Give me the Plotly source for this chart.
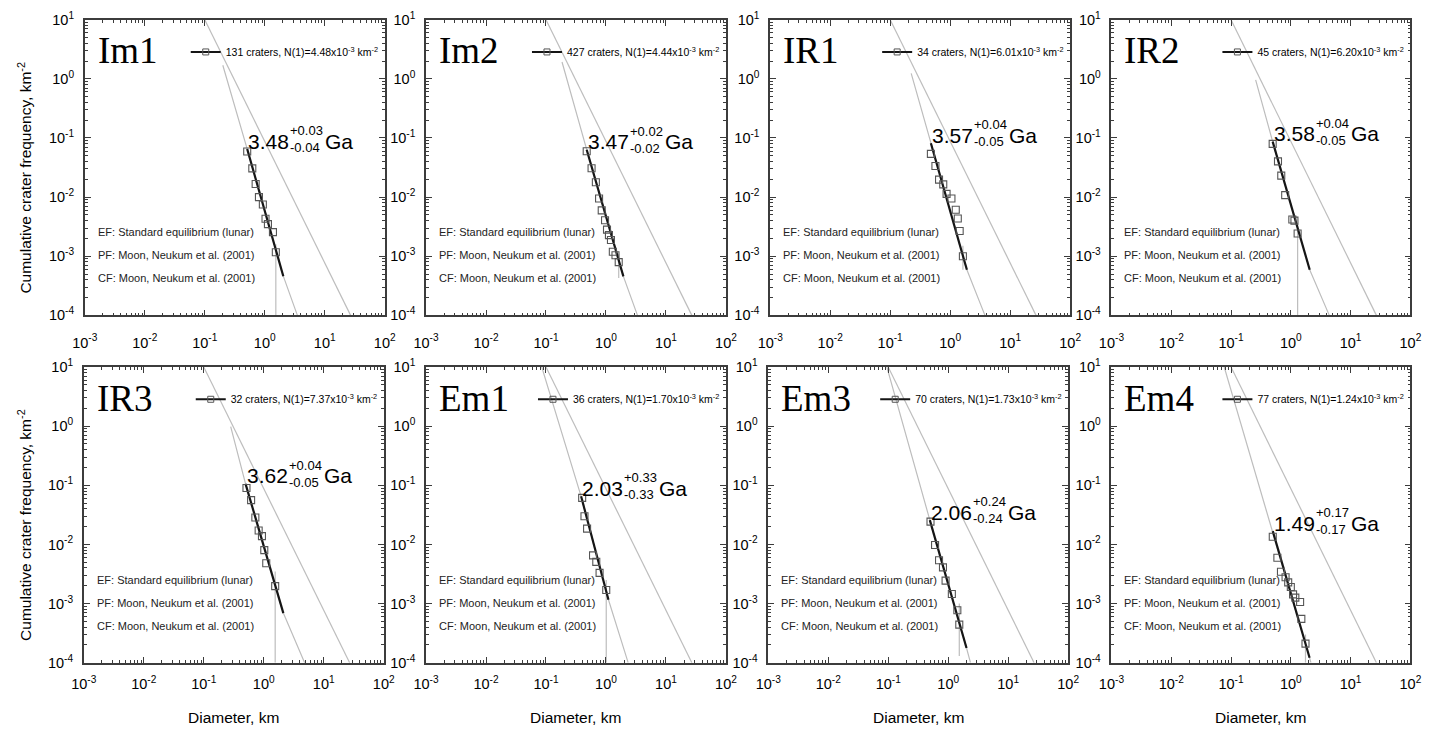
import math
import plotly.graph_objects as go

W, H = 1445, 738

# ---------------- data ----------------
panel_names = ["Im1", "Im2", "IR1", "IR2", "IR3", "Em1", "Em3", "Em4"]
crater_counts = [131, 427, 34, 45, 32, 36, 70, 77]
n1_values = ["4.48", "4.44", "6.01", "6.20", "7.37", "1.70", "1.73", "1.24"]
ages = ["3.48", "3.47", "3.57", "3.58", "3.62", "2.03", "2.06", "1.49"]
age_plus = ["+0.03", "+0.02", "+0.04", "+0.04", "+0.04", "+0.33", "+0.24", "+0.17"]
age_minus = ["-0.04", "-0.02", "-0.05", "-0.05", "-0.05", "-0.33", "-0.24", "-0.17"]

# cumulative crater frequency points (diameter km, N km^-2)
im1_D = [0.51, 0.62, 0.705, 0.80, 0.93, 1.03, 1.13, 1.37, 1.53]
im1_N = [0.059, 0.0307, 0.0167, 0.0100, 0.0075, 0.0043, 0.0035, 0.00256, 0.00117]
im2_D = [0.477, 0.575, 0.678, 0.767, 0.849, 0.964, 1.04, 1.12, 1.21, 1.30, 1.44, 1.63]
im2_N = [0.0596, 0.0308, 0.0179, 0.0095, 0.00596, 0.00407, 0.00282, 0.00228, 0.00188,
         0.00119, 0.00104, 0.000796]
ir1_D = [0.477, 0.568, 0.652, 0.767, 0.871, 1.05, 1.24, 1.34, 1.44, 1.63]
ir1_N = [0.0538, 0.0337, 0.0198, 0.0164, 0.01135, 0.0095, 0.0061, 0.00434, 0.00268, 0.00100]
ir2_D = [0.497, 0.61, 0.692, 0.805, 1.06, 1.15, 1.30]
ir2_N = [0.0796, 0.0402, 0.0231, 0.0108, 0.00418, 0.0040, 0.00243]
ir3_D = [0.515, 0.615, 0.724, 0.822, 0.933, 1.02, 1.10, 1.55]
ir3_N = [0.090, 0.0561, 0.0286, 0.0172, 0.0138, 0.0080, 0.0048, 0.00197]
em1_D = [0.401, 0.438, 0.484, 0.608, 0.689, 0.782, 1.01]
em1_N = [0.0612, 0.0299, 0.0185, 0.00652, 0.00507, 0.0033, 0.0017]
em3_D = [0.507, 0.604, 0.703, 0.818, 0.904, 1.15, 1.42, 1.53]
em3_N = [0.0243, 0.00977, 0.0054, 0.00409, 0.00244, 0.00145, 0.00077, 0.00044]
em4_D = [0.499, 0.596, 0.684, 0.817, 0.904, 1.0, 1.09, 1.19, 1.43, 1.50, 1.76]
em4_N = [0.0135, 0.00596, 0.00345, 0.00279, 0.00228, 0.00191, 0.00143, 0.00126, 0.00106,
         0.00055, 0.00021]

# fitted isochron segments (black)
im1_fit_D, im1_fit_N = [0.51, 2.04], [0.065, 4.6e-4]
im2_fit_D, im2_fit_N = [0.477, 1.95], [0.0634, 4.57e-4]
ir1_fit_D, ir1_fit_N = [0.477, 1.90], [0.0817, 5.9e-4]
ir2_fit_D, ir2_fit_N = [0.497, 2.07], [0.087, 5.9e-4]
ir3_fit_D, ir3_fit_N = [0.497, 2.12], [0.106, 6.9e-4]
em1_fit_D, em1_fit_N = [0.385, 1.10], [0.0652, 0.00116]
em3_fit_D, em3_fit_N = [0.494, 2.02], [0.0258, 1.77e-4]
em4_fit_D, em4_fit_N = [0.499, 2.06], [0.0168, 1.21e-4]

# production function curves (grey)
im1_pf_D, im1_pf_N = [0.2, 0.51, 2.04, 3.5], [1.7, 0.065, 4.6e-4, 1e-4]
im2_pf_D, im2_pf_N = [0.185, 0.477, 1.95, 3.35], [1.93, 0.0634, 4.57e-4, 1e-4]
ir1_pf_D, ir1_pf_N = [0.224, 0.477, 1.90, 3.8], [1.24, 0.0817, 5.9e-4, 1e-4]
ir2_pf_D, ir2_pf_N = [0.258, 0.497, 2.07, 4.4], [0.96, 0.087, 5.9e-4, 1e-4]
ir3_pf_D, ir3_pf_N = [0.281, 0.497, 2.12, 4.8], [0.98, 0.106, 6.9e-4, 1e-4]
em1_pf_D, em1_pf_N = [0.085, 0.385, 1.10, 2.34], [10, 0.0652, 0.00116, 1e-4]
em3_pf_D, em3_pf_N = [0.095, 0.494, 2.02, 2.35], [10, 0.0258, 1.77e-4, 1e-4]
em4_pf_D, em4_pf_N = [0.077, 0.499, 2.06, 2.17], [10, 0.0168, 1.21e-4, 1e-4]

# standard lunar equilibrium (grey)
eq_D = [0.1, 27]
eq_N = [10, 1e-4]

# long error bars of the largest bins
errbar_D = [1.53, 1.63, 1.63, 1.30, 1.55, 1.01, 1.53, 1.76]
errbar_top = [1.6e-3, 1.1e-3, 1.5e-3, 3.5e-3, 3.5e-3, 2.5e-3, 1.0e-3, 3e-4]
errbar_bot = [1e-4, 4.3e-4, 5.9e-4, 1e-4, 1e-4, 1e-4, 1.3e-4, 1e-4]

pts_D = [im1_D, im2_D, ir1_D, ir2_D, ir3_D, em1_D, em3_D, em4_D]
pts_N = [im1_N, im2_N, ir1_N, ir2_N, ir3_N, em1_N, em3_N, em4_N]
fit_D = [im1_fit_D, im2_fit_D, ir1_fit_D, ir2_fit_D, ir3_fit_D, em1_fit_D, em3_fit_D, em4_fit_D]
fit_N = [im1_fit_N, im2_fit_N, ir1_fit_N, ir2_fit_N, ir3_fit_N, em1_fit_N, em3_fit_N, em4_fit_N]
pf_D = [im1_pf_D, im2_pf_D, ir1_pf_D, ir2_pf_D, ir3_pf_D, em1_pf_D, em3_pf_D, em4_pf_D]
pf_N = [im1_pf_N, im2_pf_N, ir1_pf_N, ir2_pf_N, ir3_pf_N, em1_pf_N, em3_pf_N, em4_pf_N]

x_decades = [-3, -2, -1, 0, 1, 2]
y_decades = [-4, -3, -2, -1, 0, 1]

# ---------------- layout geometry (pixels) ----------------
col_px = [[(73, 378), (420, 725), (770, 1075), (1117, 1421)],
          [(72, 377), (420, 725), (768, 1073), (1117, 1421)]]
row_px = [(10, 313), (366, 669)]

SANS = "Liberation Sans, Arial, sans-serif"
SERIF = "Liberation Serif, Times New Roman, serif"
FRAME = "#3c3c3c"
GREY = "#bdbdbd"

fig = go.Figure()
layout = dict(
    width=W, height=H,
    margin=dict(l=0, r=0, t=0, b=0),
    paper_bgcolor="white", plot_bgcolor="white",
    font=dict(family=SANS, size=13, color="black"),
    showlegend=True,
)
annotations = []

x_minor = [k * 10 ** e for e in range(-3, 2) for k in range(2, 10)]
y_minor = [k * 10 ** e for e in range(-4, 1) for k in range(2, 10)]

for i in range(8):
    r, c = divmod(i, 4)
    ax = "" if i == 0 else str(i + 1)
    xa, ya = "x" + ax, "y" + ax
    (x0, x1), (y0, y1) = col_px[r][c], row_px[r]
    layout["xaxis" + ax] = dict(
        type="log", range=[-3, 2], domain=[x0 / W, x1 / W], anchor=ya,
        showline=True, linecolor=FRAME, linewidth=1.6, mirror="allticks",
        ticks="inside", ticklen=6, tickwidth=1, tickcolor=FRAME,
        tickvals=[10 ** d for d in x_decades],
        ticktext=["10<sup>%d</sup>" % d for d in x_decades],
        tickfont=dict(size=14.5, color="black"),
        ticklabelstandoff=13 if r == 0 else 7,
        minor=dict(ticks="inside", ticklen=3, tickcolor=FRAME, tickvals=x_minor, showgrid=False),
        showgrid=False, zeroline=False, fixedrange=True,
    )
    layout["yaxis" + ax] = dict(
        type="log", range=[-4, 1], domain=[1 - y1 / H, 1 - y0 / H], anchor=xa,
        showline=True, linecolor=FRAME, linewidth=1.6, mirror="allticks",
        ticks="inside", ticklen=6, tickwidth=1, tickcolor=FRAME,
        tickvals=[10 ** d for d in y_decades],
        ticktext=["10<sup>%d</sup>" % d for d in y_decades],
        tickfont=dict(size=14.5, color="black"),
        ticklabelstandoff=6,
        minor=dict(ticks="inside", ticklen=3, tickcolor=FRAME, tickvals=y_minor, showgrid=False),
        showgrid=False, zeroline=False, fixedrange=True,
    )

    common = dict(xaxis=xa, yaxis=ya, showlegend=False, hoverinfo="skip")
    fig.add_trace(go.Scatter(x=eq_D, y=eq_N, mode="lines",
                             line=dict(color=GREY, width=1.2), **common))
    fig.add_trace(go.Scatter(x=pf_D[i], y=pf_N[i], mode="lines",
                             line=dict(color=GREY, width=1.2), **common))
    fig.add_trace(go.Scatter(x=[errbar_D[i], errbar_D[i]], y=[errbar_top[i], errbar_bot[i]],
                             mode="lines", line=dict(color=GREY, width=1.2), **common))
    fig.add_trace(go.Scatter(x=fit_D[i], y=fit_N[i], mode="lines",
                             line=dict(color="#151515", width=2.2), **common))
    fig.add_trace(go.Scatter(x=pts_D[i], y=pts_N[i], mode="markers",
                             marker=dict(symbol="square-open", size=7, color="#555555",
                                         line=dict(width=1.1, color="#555555")), **common))

    # legend entry
    leg = "legend" if i == 0 else "legend%d" % (i + 1)
    fig.add_trace(go.Scatter(
        x=[None], y=[None], xaxis=xa, yaxis=ya, mode="lines+markers",
        name="%d craters, N(1)=%sx10<sup>-3</sup> km<sup>-2</sup>" % (crater_counts[i], n1_values[i]),
        line=dict(color="#151515", width=2),
        marker=dict(symbol="square-open", size=6, color="#555555"),
        legend=leg, showlegend=True))
    layout[leg] = dict(
        x=(x1 - 1) / W, xanchor="right", y=1 - (y0 + 33) / H, yanchor="middle",
        bgcolor="rgba(0,0,0,0)", borderwidth=0,
        font=dict(family=SANS, size=10.5, color="black"),
        itemwidth=30, tracegroupgap=0,
    )

    xd, yd = xa + " domain", ya + " domain"
    # panel name
    annotations.append(dict(text=panel_names[i], xref=xd, yref=yd, x=0, y=1,
                            xanchor="left", yanchor="middle", xshift=11, yshift=-31,
                            showarrow=False, font=dict(family=SERIF, size=37, color="black")))
    # function notes
    notes = ["EF: Standard equilibrium (lunar)", "PF: Moon, Neukum et al. (2001)",
             "CF: Moon, Neukum et al. (2001)"]
    for j, t in enumerate(notes):
        annotations.append(dict(text=t, xref=xd, yref=yd, x=0, y=0,
                                xanchor="left", yanchor="middle", xshift=11,
                                yshift=83 - 23 * j, showarrow=False,
                                font=dict(family=SANS, size=11, color="#222222")))
    # age label near the start of the fit
    ax_x, ax_y = math.log10(fit_D[i][0]), math.log10(fit_N[i][0])
    annotations.append(dict(text=ages[i], xref=xa, yref=ya, x=ax_x, y=ax_y,
                            xanchor="left", yanchor="middle", xshift=-1, yshift=8,
                            showarrow=False, font=dict(family=SANS, size=21, color="black")))
    annotations.append(dict(text=age_plus[i] + "<br>" + age_minus[i], xref=xa, yref=ya,
                            x=ax_x, y=ax_y, xanchor="left", yanchor="middle", align="left",
                            xshift=41, yshift=10, showarrow=False,
                            font=dict(family=SANS, size=13, color="black")))
    annotations.append(dict(text="Ga", xref=xa, yref=ya, x=ax_x, y=ax_y,
                            xanchor="left", yanchor="middle", xshift=76, yshift=8,
                            showarrow=False, font=dict(family=SANS, size=21, color="black")))

# axis titles
for r, yc in enumerate([172, 528]):
    annotations.append(dict(text="Cumulative crater frequency, km<sup>-2</sup>", xref="paper",
                            yref="paper", x=12 / W, y=1 - yc / H, textangle=-90,
                            xanchor="center", yanchor="middle", showarrow=False,
                            font=dict(family=SANS, size=15.5, color="black")))
for c in range(4):
    x0, x1 = col_px[1][c]
    annotations.append(dict(text="Diameter, km", xref="paper", yref="paper",
                            x=(x0 + x1) / 2 / W, y=1 - 725 / H, xanchor="center",
                            yanchor="middle", showarrow=False,
                            font=dict(family=SANS, size=15.5, color="black")))

layout["annotations"] = annotations
fig.update_layout(**layout)
fig.write_html("out.html")
